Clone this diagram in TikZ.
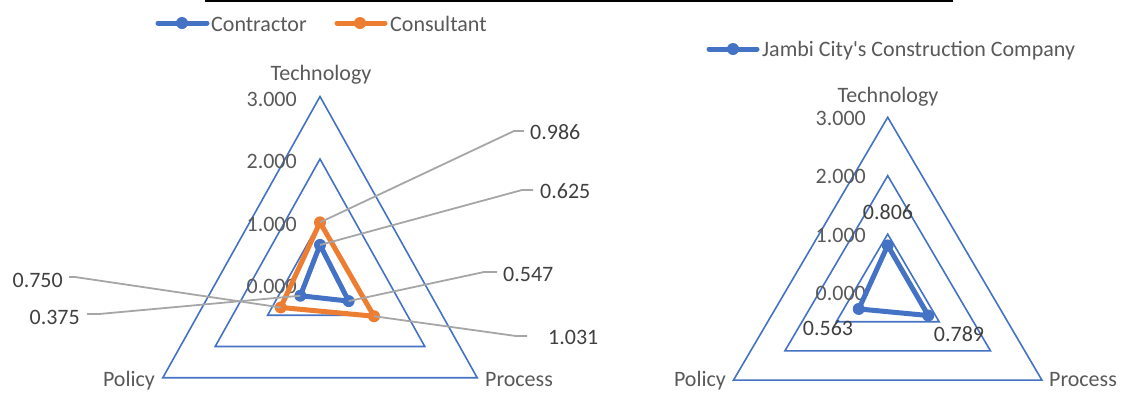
\documentclass[tikz,border=0pt]{standalone}
\usepackage{fontspec}
\setmainfont[Ligatures=TeXOff]{Carlito}
\definecolor{gridblue}{HTML}{4472C4}
\definecolor{serblue}{HTML}{4472C4}
\definecolor{serorange}{HTML}{ED7D31}
\definecolor{txtgray}{HTML}{595959}
\definecolor{lblgray}{HTML}{404040}
\definecolor{leadgray}{HTML}{A6A6A6}
\newcommand\fsz{\fontsize{22}{26}\selectfont}
\tikzset{
  gridline/.style={draw=gridblue, line width=1.6},
  ser/.style={line width=5, line join=round, line cap=round},
  mk/.style={circle, fill, inner sep=0, minimum size=12},
  lbl/.style={text=txtgray, font=\fsz, inner sep=0, text height=15, text depth=3},
  dlbl/.style={text=lblgray, font=\fsz, inner sep=0, text height=15, text depth=3},
  leader/.style={draw=leadgray, line width=1.8},
}
\begin{document}
\begin{tikzpicture}[x=1pt,y=-1pt]
\useasboundingbox (0,0) rectangle (1122,392);
% top rule
\coordinate (r1) at (205,1);
\coordinate (r2) at (953,1);
\draw[line width=2.2] (r1) -- (r2);

% ---------- LEFT CHART ----------
\def\cx{320}\def\cy{284}\def\ya{62.5}\def\xb{52.4}
\foreach \v in {1,2,3}{
  \draw[gridline] (\cx,{\cy-\v*\ya}) -- ({\cx+\v*\xb},{\cy+\v*\ya/2}) -- ({\cx-\v*\xb},{\cy+\v*\ya/2}) -- cycle;
}
\foreach \v/\t in {0/0.000,1/1.000,2/2.000,3/3.000}{
  \node[lbl, anchor=east] (lt\v) at (297,{\cy-\v*\ya+3.5}) {\t};
}
\node[lbl] (lTech) at (321,74) {Technology};
\node[lbl] (lPol) at (129,380) {Policy};
\node[lbl] (lPro) at (519,380) {Process};
% data points
\coordinate (oT) at (\cx,{\cy-0.986*\ya});
\coordinate (oR) at ({\cx+1.031*\xb},{\cy+1.031*\ya/2});
\coordinate (oL) at ({\cx-0.750*\xb},{\cy+0.750*\ya/2});
\coordinate (bT) at (\cx,{\cy-0.625*\ya});
\coordinate (bR) at ({\cx+0.547*\xb},{\cy+0.547*\ya/2});
\coordinate (bL) at ({\cx-0.375*\xb},{\cy+0.375*\ya/2});
\draw[ser, serorange] (oT) -- (oR) -- (oL) -- cycle;
\draw[ser, serblue] (bT) -- (bR) -- (bL) -- cycle;
\foreach \p in {oT,oR,oL}{\node[mk, fill=serorange] (m\p) at (\p) {};}
\foreach \p in {bT,bR,bL}{\node[mk, fill=serblue] (m\p) at (\p) {};}
% data labels with leaders
\node[dlbl, anchor=west] (d986) at (530,133) {0.986};
\node[dlbl, anchor=west] (d625) at (540,192) {0.625};
\node[dlbl, anchor=west] (d547) at (503,275.5) {0.547};
\node[dlbl, anchor=west] (d1031) at (548,338) {1.031};
\node[dlbl, anchor=east] (d750) at (63,281) {0.750};
\node[dlbl, anchor=east] (d375) at (80,318) {0.375};
\coordinate (k986a) at (514,131); \coordinate (k986b) at (524,131);
\coordinate (k625a) at (522,190); \coordinate (k625b) at (533,190);
\coordinate (k547a) at (484,272); \coordinate (k547b) at (497,272);
\coordinate (k1031a) at (516,336); \coordinate (k1031b) at (527,336);
\coordinate (k750a) at (75,277); \coordinate (k750b) at (69,277);
\coordinate (k375a) at (99,314); \coordinate (k375b) at (87,314);
\draw[leader] (oT) -- (k986a) -- (k986b);
\draw[leader] (bT) -- (k625a) -- (k625b);
\draw[leader] (bR) -- (k547a) -- (k547b);
\draw[leader] (oR) -- (k1031a) -- (k1031b);
\draw[leader] (oL) -- (k750a) -- (k750b);
\draw[leader] (bL) -- (k375a) -- (k375b);
% legend
\coordinate (lg1a) at (158,23); \coordinate (lg1b) at (207,23);
\draw[ser, serblue] (lg1a) -- (lg1b);
\node[mk, fill=serblue] (lg1m) at (182,23) {};
\node[lbl, anchor=west] (lg1t) at (211,25) {Contractor};
\coordinate (lg2a) at (337,23); \coordinate (lg2b) at (385,23);
\draw[ser, serorange] (lg2a) -- (lg2b);
\node[mk, fill=serorange] (lg2m) at (360,23) {};
\node[lbl, anchor=west] (lg2t) at (390,25) {Consultant};

% ---------- RIGHT CHART ----------
\def\rx{887.7}\def\ry{292.5}\def\ra{58.4}\def\rb{51.4}
\foreach \v in {1,2,3}{
  \draw[gridline] (\rx,{\ry-\v*\ra}) -- ({\rx+\v*\rb},{\ry+\v*\ra/2}) -- ({\rx-\v*\rb},{\ry+\v*\ra/2}) -- cycle;
}
\foreach \v/\t in {0/0.000,1/1.000,2/2.000,3/3.000}{
  \node[lbl, anchor=east] (rt\v) at (866,{\ry-\v*\ra+2}) {\t};
}
\node[lbl] (rTech) at (888,96) {Technology};
\node[lbl] (rPol) at (700,380) {Policy};
\node[lbl] (rPro) at (1083,380) {Process};
\coordinate (jT) at (\rx,{\ry-0.806*\ra});
\coordinate (jR) at ({\rx+0.789*\rb},{\ry+0.789*\ra/2});
\coordinate (jL) at ({\rx-0.563*\rb},{\ry+0.563*\ra/2});
\draw[ser, serblue] (jT) -- (jR) -- (jL) -- cycle;
\foreach \p in {jT,jR,jL}{\node[mk, fill=serblue] (m\p) at (\p) {};}
\node[dlbl] (d806) at (888,213) {0.806};
\node[dlbl] (d563) at (828,329.5) {0.563};
\node[dlbl] (d789) at (959,335) {0.789};
% legend
\coordinate (lg3a) at (709,49); \coordinate (lg3b) at (757,49);
\draw[ser, serblue] (lg3a) -- (lg3b);
\node[mk, fill=serblue] (lg3m) at (733,49) {};
\node[lbl, anchor=west] (lg3t) at (762,50) {Jambi City's Construction Company};
\end{tikzpicture}
\end{document}
